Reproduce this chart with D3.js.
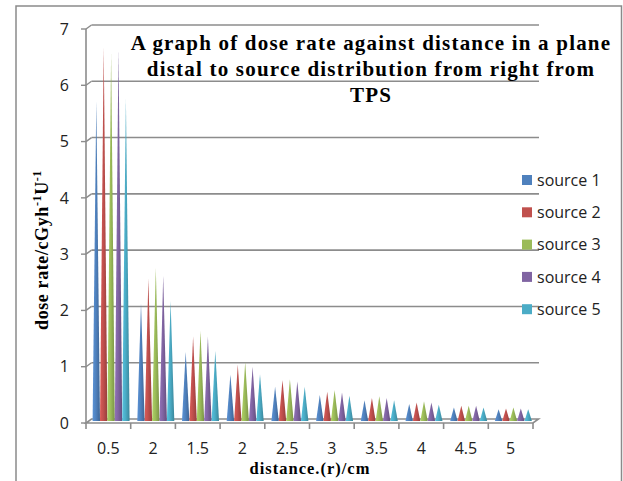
<!DOCTYPE html>
<html><head><meta charset="utf-8">
<script src="https://cdn.jsdelivr.net/npm/d3@7/dist/d3.min.js"></script>
<style>
html,body{margin:0;padding:0;background:#fff;}
svg{display:block;}
</style></head>
<body>
<svg id="chart" width="623" height="481"></svg>
<script>
const categories = ["0.5","2","1.5","2","2.5","3","3.5","4","4.5","5"];
const seriesNames = ["source 1","source 2","source 3","source 4","source 5"];
const source1 = [5.69, 2.09, 1.23, 0.82, 0.61, 0.46, 0.37, 0.30, 0.24, 0.21];
const source2 = [6.65, 2.53, 1.50, 1.00, 0.73, 0.52, 0.41, 0.33, 0.27, 0.22];
const source3 = [6.53, 2.72, 1.60, 1.05, 0.74, 0.55, 0.44, 0.35, 0.27, 0.24];
const source4 = [6.61, 2.58, 1.50, 0.96, 0.70, 0.50, 0.41, 0.33, 0.27, 0.22];
const source5 = [5.73, 2.13, 1.25, 0.83, 0.61, 0.45, 0.37, 0.29, 0.24, 0.21];
const yTicks = [0,1,2,3,4,5,6,7];
const titleLines = ["A graph of dose rate against distance in a plane","distal to source distribution from right from","TPS"];
const colors = ["#4F81BD","#C0504D","#9BBB59","#8064A2","#4BACC6"];
const seriesValues = [source1, source2, source3, source4, source5];

const svg = d3.select("#chart");
const gridColor = "#8c8c8c";
const serif = "'Liberation Serif','Times New Roman',serif";
const sans = "'Open Sans','DejaVu Sans',sans-serif";

// outer frame
svg.append("rect").attr("x",16).attr("y",6).attr("width",605.5).attr("height",490)
  .attr("fill","none").attr("stroke","#8a8a8a").attr("stroke-width",1.5);

// depth offset (3D)
const dX = 5.5, dY = -4;
const x = d3.scaleBand().domain(d3.range(categories.length)).range([86,533]).paddingInner(0).paddingOuter(0);
const xEdge = d3.scaleLinear().domain([0,categories.length]).range([86,533]);
const y = d3.scaleLinear().domain([0,7]).range([423,29]);

// gradients
const defs = svg.append("defs");
colors.forEach((c,i)=>{
  const g = defs.append("linearGradient").attr("id","cone"+i).attr("x1","0").attr("x2","1").attr("y1","0").attr("y2","0");
  const base = d3.color(c);
  g.append("stop").attr("offset","0%").attr("stop-color",base.brighter(0.35).formatHex());
  g.append("stop").attr("offset","45%").attr("stop-color",base.formatHex());
  g.append("stop").attr("offset","100%").attr("stop-color",base.darker(0.7).formatHex());
});

// back wall gridlines
const grid = svg.append("g");
yTicks.filter(v=>v>0).forEach(v=>{
  grid.append("line").attr("x1",86+dX).attr("x2",533+dX+0.5).attr("y1",y(v)+dY).attr("y2",y(v)+dY)
    .attr("stroke",gridColor).attr("stroke-width",1.6);
  grid.append("line").attr("x1",86).attr("x2",86+dX).attr("y1",y(v)).attr("y2",y(v)+dY)
    .attr("stroke",gridColor).attr("stroke-width",1.4);
});
// floor
grid.append("path").attr("d",`M${86},${y(0)}L${533},${y(0)}L${533+dX},${y(0)+dY}L${86+dX},${y(0)+dY}Z`)
  .attr("fill","none").attr("stroke",gridColor).attr("stroke-width",1.6);
// front vertical axis
grid.append("line").attr("x1",86).attr("x2",86).attr("y1",y(7)).attr("y2",y(0))
  .attr("stroke",gridColor).attr("stroke-width",1.6);
// y tick marks and labels
yTicks.forEach(v=>{
  grid.append("line").attr("x1",81).attr("x2",86).attr("y1",y(v)).attr("y2",y(v))
    .attr("stroke",gridColor).attr("stroke-width",1.4);
  svg.append("text").attr("x",69).attr("y",y(v)).attr("dy","0.36em").attr("text-anchor","end")
    .attr("font-family",sans).attr("font-size",16).attr("fill","#222").text(v);
});
// x tick marks
d3.range(categories.length+1).forEach(i=>{
  grid.append("line").attr("x1",xEdge(i)).attr("x2",xEdge(i)).attr("y1",y(0)).attr("y2",y(0)+6)
    .attr("stroke",gridColor).attr("stroke-width",1.6);
});
// x labels via axis
const xAxis = d3.axisBottom(x).tickSize(0).tickPadding(0).tickFormat(i=>categories[i]);
const gx = svg.append("g").attr("transform",`translate(0,${454})`).call(xAxis);
gx.select(".domain").remove();
gx.selectAll("text").attr("dy",0).attr("y",0).attr("font-family",sans).attr("font-size",16).attr("fill","#222");

// cones
const groupW = 37;
const x1 = d3.scaleBand().domain(d3.range(seriesNames.length)).range([0,groupW]).padding(0);
const yMid = v => y(v) + dY/2;
const cones = svg.append("g");
categories.forEach((c,ci)=>{
  const cx0 = x(ci) + x.bandwidth()/2 + dX/2 - groupW/2;
  seriesValues.forEach((vals,si)=>{
    const l = cx0 + x1(si), w = x1.bandwidth();
    const base = yMid(0), top = yMid(vals[ci]);
    cones.append("path")
      .attr("d",`M${l},${base}L${l+w/2},${top}L${l+w},${base}Z`)
      .attr("fill",`url(#cone${si})`);
  });
});

// legend
const leg = svg.append("g");
seriesNames.forEach((n,i)=>{
  const ly = 180 + i*32.3;
  leg.append("rect").attr("x",522).attr("y",ly-5).attr("width",10).attr("height",10).attr("fill",colors[i]);
  leg.append("text").attr("x",537).attr("y",ly).attr("dy","0.36em").attr("font-family",sans)
    .attr("font-size",16).attr("fill","#222").text(n);
});

// title
titleLines.forEach((t,i)=>{
  svg.append("text").attr("x",371).attr("y",50+i*26).attr("text-anchor","middle")
    .attr("font-family",serif).attr("font-weight","bold").attr("font-size",21)
    .attr("letter-spacing","1.2px").attr("fill","#000").text(t);
});

// x axis title
svg.append("text").attr("x",310).attr("y",474).attr("text-anchor","middle")
  .attr("font-family",serif).attr("font-weight","bold").attr("font-size",16.5)
  .attr("letter-spacing","1px").attr("fill","#000").text("distance.(r)/cm");

// y axis title
const yt = svg.append("text").attr("transform","translate(48,250) rotate(-90)").attr("text-anchor","middle")
  .attr("font-family",serif).attr("font-weight","bold").attr("font-size",18)
  .attr("letter-spacing","0.6px").attr("fill","#000");
yt.append("tspan").text("dose rate/cGyh");
yt.append("tspan").attr("baseline-shift","super").attr("font-size",12).text("-1");
yt.append("tspan").text("U");
yt.append("tspan").attr("baseline-shift","super").attr("font-size",12).text("-1");
</script>
</body></html>
